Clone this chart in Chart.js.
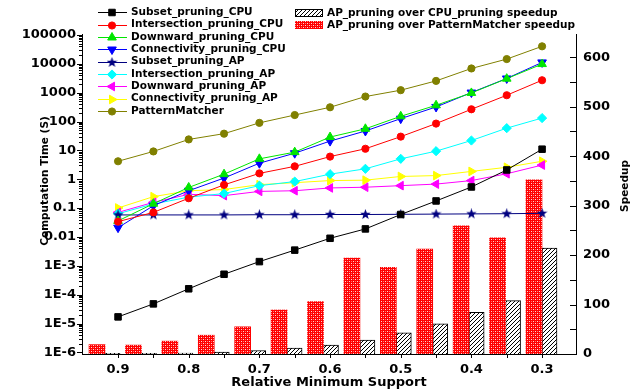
<!DOCTYPE html>
<html>
<head>
<meta charset="utf-8">
<script src="https://cdn.jsdelivr.net/npm/chart.js@4.4.1/dist/chart.umd.min.js"></script>
<style>
    html, body { margin: 0; padding: 0; background: #fff; }
    #wrap { width: 640px; height: 392px; }
</style>
</head>
<body>
<div id="wrap"><canvas id="speedChart" width="640" height="392"></canvas></div>
<script>
// x values and tick labels
const support = [0.9, 0.85, 0.8, 0.75, 0.7, 0.65, 0.6, 0.55, 0.5, 0.45, 0.4, 0.35, 0.3];
const supportLabels = ['0.9', '', '0.8', '', '0.7', '', '0.6', '', '0.5', '', '0.4', '', '0.3'];
const timeTickLabels = ['1E-6', '1E-5', '1E-4', '1E-3', '0.01', '0.1', '1', '10', '100', '1000', '10000', '100000'];
const speedupTicks = [0, 50, 100, 150, 200, 250, 300, 350, 400, 450, 500, 550, 600];
const speedupLabels = ['0', '', '100', '', '200', '', '300', '', '400', '', '500', '', '600'];

// computation time (s), log axis
const subsetCpu = [1.7e-5, 4.8e-5, 1.6e-4, 5.1e-4, 1.4e-3, 3.5e-3, 9.0e-3, 0.019, 0.06, 0.177, 0.54, 2.1, 11];
const intersectionCpu = [0.034, 0.071, 0.22, 0.64, 1.6, 2.8, 6.1, 11.4, 30, 85, 266, 816, 2700];
const downwardCpu = [0.036, 0.142, 0.52, 1.5, 5.1, 8.7, 29, 56, 152, 366, 980, 3060, 9800];
const connectivityCpu = [0.021, 0.121, 0.4, 1.1, 3.6, 8.0, 21, 47, 126, 320, 1010, 3110, 11200];
const subsetAp = [0.058, 0.058, 0.058, 0.058, 0.059, 0.059, 0.06, 0.06, 0.061, 0.062, 0.063, 0.064, 0.066];
const intersectionAp = [0.064, 0.139, 0.24, 0.32, 0.6, 0.83, 1.5, 2.3, 5.1, 9.4, 22, 59, 132];
const downwardAp = [0.071, 0.158, 0.3, 0.27, 0.38, 0.4, 0.5, 0.53, 0.6, 0.68, 0.9, 1.55, 3.1];
const connectivityAp = [0.101, 0.25, 0.4, 0.44, 0.65, 0.76, 0.9, 0.93, 1.25, 1.34, 1.87, 2.6, 4.2];
const patternMatcher = [4.2, 9.2, 24, 38, 90, 168, 312, 735, 1220, 2560, 6900, 14600, 40400];

// speedup bars, right axis
const speedupVsCpu = [1.5, 1.5, 2, 4, 7, 12, 18, 28, 43, 61, 84, 108, 214];
const speedupVsPm = [19, 18, 26, 38, 55, 89, 106, 194, 175, 212, 259, 235, 352];

const FONT = 'DejaVu Sans';
Chart.defaults.font.family = FONT;
Chart.defaults.color = '#000';

const canvas = document.getElementById('speedChart');
const mainCtx = canvas.getContext('2d');

function makeTile(draw) {
    const tile = document.createElement('canvas');
    tile.width = 4;
    tile.height = 4;
    draw(tile.getContext('2d'));
    return mainCtx.createPattern(tile, 'repeat');
}

const redPattern = makeTile(g => {
    g.fillStyle = '#ff0000';
    g.fillRect(0, 0, 4, 4);
    g.fillStyle = '#ffd8d8';
    g.fillRect(1, 1, 1, 1);
    g.fillRect(3, 3, 1, 1);
    g.fillStyle = '#ff7070';
    g.fillRect(1, 3, 1, 1);
    g.fillRect(3, 1, 1, 1);
});

const hatchPattern = makeTile(g => {
    g.fillStyle = '#ffffff';
    g.fillRect(0, 0, 4, 4);
    g.fillStyle = '#000000';
    g.fillRect(3, 0, 1, 1);
    g.fillRect(2, 1, 1, 1);
    g.fillRect(1, 2, 1, 1);
    g.fillRect(0, 3, 1, 1);
});

function makeStar(color, size) {
    const c = document.createElement('canvas');
    c.width = size;
    c.height = size;
    const g = c.getContext('2d');
    const cx = size / 2, cy = size / 2, ro = size / 2, ri = ro * 0.42;
    g.fillStyle = color;
    g.beginPath();
    for (let k = 0; k < 10; k++) {
        const r = k % 2 ? ri : ro;
        const a = -Math.PI / 2 + k * Math.PI / 5;
        g.lineTo(cx + r * Math.cos(a), cy + r * Math.sin(a));
    }
    g.closePath();
    g.fill();
    return c;
}

const starImg = makeStar('#000080', 11);

function lineSet(label, values, color, style, radius, rotation) {
    return {
        type: 'line',
        label: label,
        data: support.map((s, i) => ({ x: s, y: values[i] })),
        xAxisID: 'x',
        yAxisID: 'yTime',
        borderColor: color,
        backgroundColor: color,
        borderWidth: 1,
        tension: 0,
        pointStyle: style,
        pointRadius: radius,
        pointRotation: rotation || 0,
        pointBackgroundColor: color,
        pointBorderColor: color,
        pointBorderWidth: 1,
        order: 1
    };
}

const lineSets = [
    lineSet('Subset_pruning_CPU', subsetCpu, '#000000', 'rect', 4.6),
    lineSet('Intersection_pruning_CPU', intersectionCpu, '#ff0000', 'circle', 3.6),
    lineSet('Downward_pruning_CPU', downwardCpu, '#00e600', 'triangle', 5),
    lineSet('Connectivity_pruning_CPU', connectivityCpu, '#0000ff', 'triangle', 5, 180),
    lineSet('Subset_pruning_AP', subsetAp, '#000080', starImg, 5),
    lineSet('Intersection_pruning_AP', intersectionAp, '#00ffff', 'rectRot', 4.6),
    lineSet('Downward_pruning_AP', downwardAp, '#ff00ff', 'triangle', 5, 270),
    lineSet('Connectivity_pruning_AP', connectivityAp, '#ffff00', 'triangle', 5, 90),
    lineSet('PatternMatcher', patternMatcher, '#808000', 'circle', 3.6)
];

const barSets = [
    {
        type: 'bar',
        label: 'AP_pruning over PatternMatcher speedup',
        data: support.map((s, i) => ({ x: s, y: speedupVsPm[i] })),
        xAxisID: 'x2',
        yAxisID: 'ySpeed',
        backgroundColor: redPattern,
        borderWidth: 0,
        barThickness: 16,
        order: 2
    },
    {
        type: 'bar',
        label: 'AP_pruning over CPU_pruning speedup',
        data: support.map((s, i) => ({ x: s, y: speedupVsCpu[i] })),
        xAxisID: 'x2',
        yAxisID: 'ySpeed',
        backgroundColor: hatchPattern,
        borderColor: '#000',
        borderWidth: 1,
        barThickness: 15,
        order: 2
    }
];

function drawMarker(ctx, ds, x, y) {
    ctx.fillStyle = ds.pointBackgroundColor;
    ctx.strokeStyle = ds.pointBorderColor;
    ctx.lineWidth = 1;
    if (Chart.helpers && Chart.helpers.drawPoint) {
        Chart.helpers.drawPoint(ctx, {
            pointStyle: ds.pointStyle,
            radius: ds.pointRadius,
            rotation: ds.pointRotation,
            borderWidth: 1
        }, x, y);
    } else {
        ctx.beginPath();
        ctx.arc(x, y, ds.pointRadius, 0, Math.PI * 2);
        ctx.fill();
    }
}

// tick marks, axis titles and both legends
const decorPlugin = {
    id: 'decor',
    afterDraw(chart) {
        const ctx = chart.ctx;
        const area = chart.chartArea;
        ctx.save();
        ctx.strokeStyle = '#000';
        ctx.lineWidth = 1;
        ctx.beginPath();
        chart.scales.yTime.ticks.forEach(t => {
            const y = Math.round(chart.scales.yTime.getPixelForValue(t.value)) + 0.5;
            const len = t.major ? 5 : 3;
            ctx.moveTo(area.left - len, y);
            ctx.lineTo(area.left, y);
        });
        speedupTicks.forEach(v => {
            const y = Math.round(chart.scales.ySpeed.getPixelForValue(v)) + 0.5;
            ctx.moveTo(area.right - 6, y);
            ctx.lineTo(area.right, y);
        });
        support.forEach(v => {
            const x = Math.round(chart.scales.x.getPixelForValue(v)) + 0.5;
            ctx.moveTo(x, area.bottom);
            ctx.lineTo(x, area.bottom + 4);
        });
        ctx.stroke();

        // axis titles
        ctx.fillStyle = '#000';
        ctx.textAlign = 'center';
        ctx.textBaseline = 'middle';
        ctx.font = 'bold 13px ' + FONT;
        ctx.fillText('Relative Minimum Support', (area.left + area.right) / 2, 383);

        ctx.font = 'bold 10.5px ' + FONT;
        ctx.save();
        ctx.translate(45, 181);
        ctx.rotate(-Math.PI / 2);
        ctx.fillText('Computation Time (S)', 0, 0);
        ctx.restore();
        ctx.save();
        ctx.translate(625.5, 186);
        ctx.rotate(-Math.PI / 2);
        ctx.fillText('Speedup', 0, 0);
        ctx.restore();

        // line legend
        ctx.textAlign = 'left';
        ctx.font = 'bold 10.5px ' + FONT;
        lineSets.forEach((ds, i) => {
            const y = 12.3 + i * 12.35;
            ctx.strokeStyle = ds.borderColor;
            ctx.beginPath();
            ctx.moveTo(98, Math.round(y) + 0.5);
            ctx.lineTo(127, Math.round(y) + 0.5);
            ctx.stroke();
            drawMarker(ctx, ds, 112, Math.round(y) + 0.5);
            ctx.fillStyle = '#000';
            ctx.fillText(ds.label, 131, y);
        });

        // bar legend
        [barSets[1], barSets[0]].forEach((ds, i) => {
            const y = 13.3 + i * 11.7;
            ctx.fillStyle = ds.backgroundColor;
            ctx.fillRect(295, Math.round(y - 4), 28, 8);
            if (ds.borderWidth) {
                ctx.strokeStyle = '#000';
                ctx.strokeRect(295.5, Math.round(y - 4) + 0.5, 27, 7);
            }
            ctx.fillStyle = '#000';
            ctx.fillText(ds.label, 327, y);
        });
        ctx.restore();
    }
};

const tickFont = { size: 13, weight: 'bold' };

new Chart(mainCtx, {
    type: 'line',
    data: { datasets: [...lineSets, ...barSets] },
    options: {
        responsive: false,
        animation: false,
        devicePixelRatio: 1,
        layout: { padding: { top: 34, left: 0, right: 0, bottom: 0 } },
        plugins: {
            legend: { display: false },
            tooltip: { enabled: false }
        },
        scales: {
            x: {
                type: 'linear',
                position: 'bottom',
                reverse: true,
                min: 0.252,
                max: 0.951,
                offset: false,
                grid: { display: false, drawTicks: false },
                border: { display: true, color: '#000', width: 1 },
                afterBuildTicks: s => { s.ticks = support.map(v => ({ value: v })); },
                ticks: {
                    autoSkip: false,
                    maxRotation: 0,
                    padding: 8,
                    font: tickFont,
                    callback: v => {
                        const i = support.findIndex(s => Math.abs(s - v) < 1e-6);
                        return i >= 0 ? supportLabels[i] : '';
                    }
                },
                afterFit: s => { s.height = 38; }
            },
            x2: {
                type: 'linear',
                position: 'bottom',
                reverse: true,
                min: 0.2533,
                max: 0.9316,
                offset: false,
                grid: { offset: false },
                display: false
            },
            yTime: {
                type: 'logarithmic',
                position: 'left',
                min: 8.8e-7,
                max: 1.08e5,
                grid: { display: false, drawTicks: false },
                border: { display: true, color: '#000', width: 1 },
                afterBuildTicks: s => {
                    const ticks = [];
                    for (let e = -6; e <= 4; e++) {
                        for (let k = 1; k <= 9; k++) {
                            ticks.push({ value: k * Math.pow(10, e), major: k === 1 });
                        }
                    }
                    ticks.push({ value: 1e5, major: true });
                    s.ticks = ticks;
                },
                ticks: {
                    autoSkip: false,
                    padding: 6,
                    font: tickFont,
                    callback: v => {
                        const e = Math.round(Math.log10(v));
                        if (Math.abs(v / Math.pow(10, e) - 1) > 1e-6) return '';
                        return timeTickLabels[e + 6];
                    }
                },
                afterFit: s => { s.width = 82; }
            },
            ySpeed: {
                type: 'linear',
                position: 'right',
                min: 0,
                max: 647,
                grid: { display: false, drawTicks: false },
                border: { display: true, color: '#000', width: 1 },
                afterBuildTicks: s => { s.ticks = speedupTicks.map(v => ({ value: v })); },
                ticks: {
                    autoSkip: false,
                    padding: 7,
                    font: tickFont,
                    callback: v => speedupLabels[speedupTicks.indexOf(v)] || ''
                },
                afterFit: s => { s.width = 64; }
            }
        }
    },
    plugins: [decorPlugin]
});
</script>
</body>
</html>
